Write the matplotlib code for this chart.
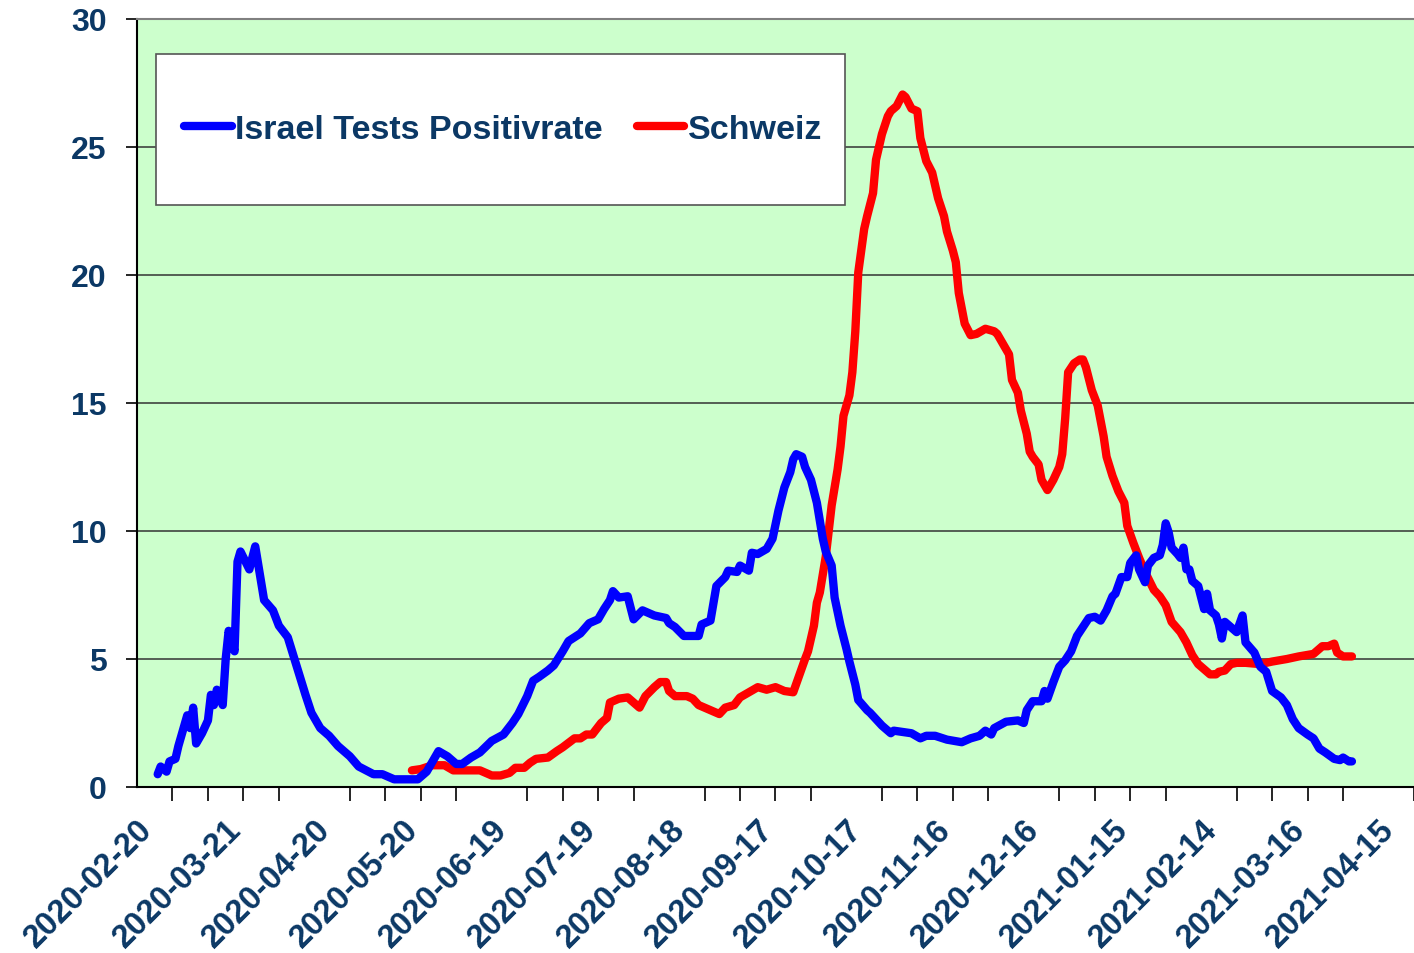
import matplotlib
matplotlib.use("Agg")
import matplotlib.pyplot as plt
from matplotlib.patches import Rectangle
import pandas as pd


START = pd.Timestamp("2020-02-20")

# days since 2020-02-20, positivity rate in %
israel_day = [7, 8, 10, 11, 13, 14, 16, 17, 18, 19, 20, 22, 24, 25, 26, 27, 29, 30, 31,
              33, 34, 35, 38, 40, 42, 43, 46, 48, 51, 53, 55, 57, 59, 62, 65, 68, 72,
              75, 80, 83, 87, 95, 98, 100, 102, 105, 108, 110, 113, 116, 120, 124,
              127, 129, 132, 134, 136, 139, 141, 144, 146, 150, 153, 156, 158, 160,
              161, 163, 166, 168, 171, 175, 179, 180, 182, 185, 190, 191, 194, 196,
              199, 200, 203, 204, 207, 208, 210, 213, 215, 217, 219, 221, 222, 223,
              225, 226, 228, 230, 232, 233, 235, 236, 238, 240, 241, 243, 244, 247,
              248, 250, 252, 255, 256, 262, 265, 267, 270, 274, 279, 282, 285, 287,
              289, 290, 294, 298, 300, 301, 303, 306, 307, 308, 310, 312, 314, 316,
              318, 320, 322, 324, 326, 328, 330, 331, 333, 335, 336, 338, 339, 341,
              342, 344, 346, 347, 348, 349, 350, 352, 353, 354, 355, 356, 357, 359,
              361, 362, 363, 365, 366, 367, 368, 370, 372, 374, 375, 378, 380, 382,
              384, 387, 389, 391, 393, 396, 398, 400, 402, 405, 407, 408, 410, 411]
israel_val = [0.5, 0.8, 0.6, 1.0, 1.1, 1.6, 2.4, 2.8, 2.3, 3.1, 1.7, 2.1, 2.6, 3.6, 3.2,
              3.8, 3.2, 5.0, 6.1, 5.3, 8.8, 9.2, 8.5, 9.4, 8.0, 7.3, 6.9, 6.3, 5.85,
              5.1, 4.35, 3.6, 2.9, 2.3, 2.0, 1.6, 1.2, 0.8, 0.5, 0.5, 0.3, 0.3, 0.6,
              1.0, 1.4, 1.2, 0.9, 0.9, 1.15, 1.35, 1.8, 2.05, 2.5, 2.85, 3.55, 4.15,
              4.3, 4.55, 4.75, 5.3, 5.7, 6.0, 6.4, 6.55, 6.95, 7.3, 7.65, 7.4, 7.45,
              6.55, 6.9, 6.7, 6.6, 6.4, 6.25, 5.9, 5.9, 6.35, 6.5, 7.85, 8.2, 8.45,
              8.4, 8.65, 8.45, 9.15, 9.1, 9.3, 9.7, 10.8, 11.7, 12.3, 12.8, 13.0,
              12.9, 12.5, 12.0, 11.1, 9.7, 9.2, 8.65, 7.4, 6.3, 5.4, 4.9, 4.0, 3.4,
              3.0, 2.9, 2.65, 2.4, 2.1, 2.2, 2.1, 1.9, 2.0, 2.0, 1.85, 1.75, 1.9, 2.0,
              2.2, 2.05, 2.3, 2.55, 2.6, 2.5, 3.0, 3.35, 3.35, 3.75, 3.45, 4.1, 4.7,
              4.95, 5.3, 5.9, 6.25, 6.6, 6.65, 6.5, 6.9, 7.45, 7.55, 8.2, 8.2, 8.75,
              9.05, 8.5, 8.0, 8.65, 8.95, 9.05, 9.45, 10.3, 9.95, 9.35, 9.1, 8.95,
              9.35, 8.5, 8.5, 8.05, 7.85, 6.95, 7.55, 6.9, 6.7, 6.35, 5.8, 6.45, 6.25,
              6.05, 6.7, 5.65, 5.25, 4.7, 4.5, 3.75, 3.5, 3.2, 2.65, 2.3, 2.05, 1.9,
              1.5, 1.35, 1.1, 1.05, 1.15, 1.0, 1.0]

swiss_day = [93, 96, 100, 104, 107, 116, 120, 123, 126, 128, 131, 133, 135, 139, 142,
             144, 148, 150, 152, 154, 157, 159, 160, 163, 166, 168, 170, 172, 175, 177,
             179, 180, 182, 186, 188, 190, 193, 197, 199, 202, 204, 207, 210, 213, 216,
             219, 222, 224, 226, 227, 229, 230, 231, 233, 234, 235, 237, 238, 239, 241,
             242, 243, 244, 246, 247, 249, 250, 252, 254, 255, 257, 259, 260, 262, 264,
             265, 267, 269, 271, 273, 274, 276, 277, 278, 280, 282, 284, 287, 290, 291,
             293, 295, 296, 298, 299, 301, 302, 303, 305, 306, 307, 308, 310, 312, 313,
             314, 315, 317, 319, 320, 321, 323, 325, 326, 327, 328, 330, 332, 334, 335,
             337, 339, 341, 344, 346, 348, 350, 353, 355, 357, 359, 361, 363, 365, 366,
             368, 370, 372, 375, 380, 384, 389, 393, 398, 401, 403, 405, 406, 408, 411]
swiss_val = [0.65, 0.7, 0.85, 0.85, 0.65, 0.65, 0.45, 0.45, 0.55, 0.75, 0.75, 0.95, 1.1,
             1.15, 1.4, 1.55, 1.9, 1.9, 2.05, 2.05, 2.5, 2.7, 3.3, 3.45, 3.5, 3.3, 3.1,
             3.55, 3.9, 4.1, 4.1, 3.75, 3.55, 3.55, 3.45, 3.2, 3.05, 2.85, 3.1, 3.2,
             3.5, 3.7, 3.9, 3.8, 3.9, 3.75, 3.7, 4.35, 5.0, 5.3, 6.3, 7.2, 7.6, 9.0,
             10.0, 11.0, 12.4, 13.3, 14.5, 15.3, 16.2, 17.8, 20.1, 21.8, 22.3, 23.2,
             24.5, 25.5, 26.2, 26.4, 26.6, 27.05, 26.95, 26.5, 26.4, 25.35, 24.45, 24.0,
             23.0, 22.3, 21.7, 20.95, 20.5, 19.3, 18.1, 17.65, 17.7, 17.9, 17.8, 17.7,
             17.3, 16.9, 15.9, 15.4, 14.7, 13.8, 13.1, 12.9, 12.6, 12.0, 11.8, 11.6,
             12.0, 12.5, 13.0, 14.4, 16.2, 16.55, 16.7, 16.7, 16.4, 15.5, 14.9, 14.3,
             13.7, 12.9, 12.15, 11.55, 11.1, 10.2, 9.55, 8.95, 8.4, 7.7, 7.45, 7.1,
             6.45, 6.05, 5.65, 5.15, 4.8, 4.6, 4.4, 4.4, 4.5, 4.55, 4.8, 4.85, 4.85,
             4.8, 4.9, 5.0, 5.1, 5.2, 5.5, 5.5, 5.6, 5.25, 5.1, 5.1]

y_ticks = [0, 5, 10, 15, 20, 25, 30]

NAVY = "#0b3865"

israel_x = START + pd.to_timedelta(israel_day, unit="D")
swiss_x = START + pd.to_timedelta(swiss_day, unit="D")

fig = plt.figure(figsize=(14.14, 9.54), dpi=100)
ax = fig.add_axes([137 / 1414, 166 / 954, 1277 / 1414, 768 / 954])
ax.set_facecolor("#ccffcc")

for y in y_ticks[1:-1]:
    ax.axhline(y, color="#333333", linewidth=1.1, zorder=1)

line_israel, = ax.plot(israel_x, israel_val, color="#0000ff", linewidth=6,
                       solid_joinstyle="round", solid_capstyle="round", zorder=3)
line_swiss, = ax.plot(swiss_x, swiss_val, color="#ff0000", linewidth=6,
                      solid_joinstyle="round", solid_capstyle="round", zorder=2)

ax.set_ylim(0, 30)
ax.set_xlim(START, START + pd.Timedelta(days=432))

ax.set_yticks(y_ticks)
ax.set_yticklabels([str(v) for v in y_ticks])
ax.tick_params(axis="y", direction="out", length=8, width=1.2, pad=14,
               labelsize=23, labelcolor=NAVY)

major = pd.date_range(START, periods=15, freq="30D")
minor = pd.date_range(START, START + pd.Timedelta(days=432), freq="12D")
ax.set_xticks(major)
ax.set_xticklabels([d.strftime("%Y-%m-%d") for d in major])
ax.set_xticks(minor, minor=True)
ax.tick_params(axis="x", which="major", length=0, pad=19, labelsize=23.5,
               labelcolor=NAVY)
ax.tick_params(axis="x", which="minor", direction="out", length=10, width=1.2)
for lbl in ax.get_xticklabels() + ax.get_yticklabels():
    lbl.set_fontweight("bold")
    lbl.set_family("Liberation Sans")
for lbl in ax.get_xticklabels():
    lbl.set_rotation(45)
    lbl.set_ha("right")
    lbl.set_va("top")
    lbl.set_rotation_mode("anchor")

ax.spines["left"].set_linewidth(1.5)
ax.spines["bottom"].set_linewidth(1.5)
ax.spines["top"].set_color("#808080")
ax.spines["top"].set_linewidth(1.5)
ax.spines["right"].set_visible(False)

# legend box
x0, x1 = (156 - 137) / 1277, (845 - 137) / 1277
y0, y1 = (788 - 206) / 768, (788 - 55) / 768
ax.add_patch(Rectangle((x0, y0), x1 - x0, y1 - y0, transform=ax.transAxes,
                       facecolor="white", edgecolor="#555555", linewidth=1.2,
                       zorder=5))
leg = ax.legend([line_israel, line_swiss], ["Israel Tests Positivrate", "Schweiz"],
                loc="center", bbox_to_anchor=((x0 + x1 + 0.004) / 2, (y0 + y1) / 2),
                ncol=2, frameon=False, handlelength=1.4, handletextpad=0.1,
                columnspacing=1.0,
                prop={"family": "Liberation Sans", "weight": "bold", "size": 24.5})
leg.set_zorder(6)
for t in leg.get_texts():
    t.set_color(NAVY)
for h in leg.legend_handles:
    h.set_solid_capstyle("round")

fig.savefig("out.png", dpi=100)
